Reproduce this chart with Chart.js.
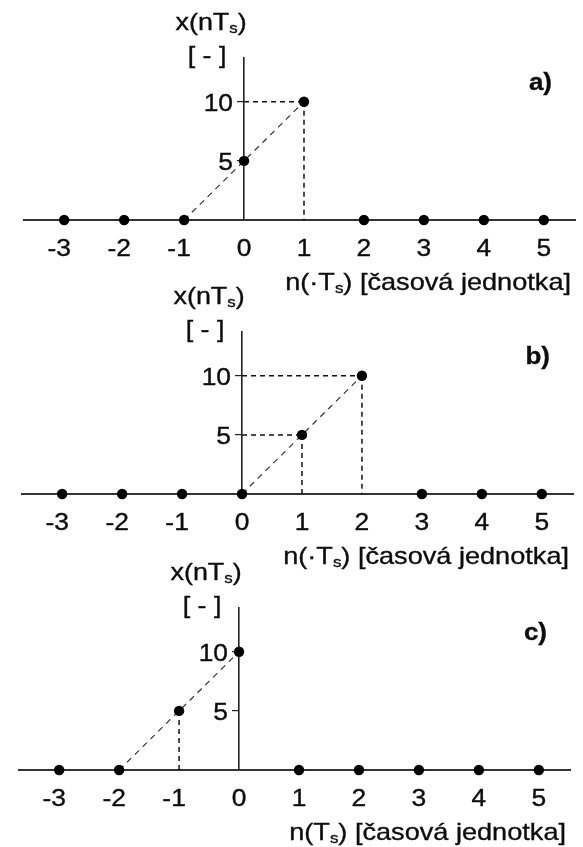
<!DOCTYPE html>
<html>
<head>
<meta charset="utf-8">
<script src="https://cdn.jsdelivr.net/npm/chart.js@4/dist/chart.umd.min.js"></script>
<style>
  html, body { margin: 0; padding: 0; background: #fff; width: 583px; height: 847px; overflow: hidden; }
  .panel { position: absolute; width: 583px; height: 297px; }
  canvas { display: block; }
</style>
</head>
<body>
<div class="panel" style="left:0px;top:0px"><canvas id="panelA" width="583" height="297"></canvas></div>
<div class="panel" style="left:-2.5px;top:274px"><canvas id="panelB" width="583" height="297"></canvas></div>
<div class="panel" style="left:-5px;top:550px"><canvas id="panelC" width="583" height="297"></canvas></div>
<script>
// Discrete-time samples n and the three sequences x(nTs)
const samples = [-3, -2, -1, 0, 1, 2, 3, 4, 5];
const signalA = [0, 0, 0, 5, 10, 0, 0, 0, 0];
const signalB = [0, 0, 0, 0, 5, 10, 0, 0, 0];
const signalC = [0, 0, 5, 10, 0, 0, 0, 0, 0];

// Tick values and texts ("_s" marks a subscript s)
const xTicks = [-3, -2, -1, 0, 1, 2, 3, 4, 5];
const yTicks = [5, 10];
const yTitleLines = ['x(nT_s)', '[ - ]'];
const panelTags = ['a)', 'b)', 'c)'];
const xTitles = ['n(·T_s) [časová jednotka]', 'n(·T_s) [časová jednotka]', 'n(T_s) [časová jednotka]'];

const FONT = '"Liberation Sans", Arial, sans-serif';
const INK = '#0d0d0d';

// Draws a string with optional subscripts, horizontally widened
function drawRich(ctx, str, x, y, align, size, weight, stretch) {
  const parts = [];
  for (let i = 0; i < str.length; i++) {
    if (str[i] === '_') { parts.push({ t: str[i + 1], sub: true }); i++; }
    else if (parts.length && !parts[parts.length - 1].sub) parts[parts.length - 1].t += str[i];
    else parts.push({ t: str[i], sub: false });
  }
  const subSize = Math.round(size * 0.62);
  let total = 0;
  parts.forEach(p => {
    ctx.font = `${weight} ${p.sub ? subSize : size}px ${FONT}`;
    p.w = ctx.measureText(p.t).width;
    total += p.w;
  });
  total *= stretch;
  const startX = align === 'right' ? x - total : align === 'center' ? x - total / 2 : x;
  ctx.save();
  ctx.fillStyle = INK;
  ctx.strokeStyle = INK;
  ctx.lineWidth = 0.35;
  ctx.textBaseline = 'alphabetic';
  ctx.textAlign = 'left';
  ctx.translate(startX, y);
  ctx.scale(stretch, 1);
  let cx = 0;
  parts.forEach(p => {
    ctx.font = `${weight} ${p.sub ? subSize : size}px ${FONT}`;
    const dy = p.sub ? size * 0.12 : 0;
    ctx.fillText(p.t, cx, dy);
    ctx.strokeText(p.t, cx, dy);
    cx += p.w;
  });
  ctx.restore();
}

// Dashed helper lines: drops to the n axis, lines back to the x axis, and the ramp
function guideLines(values) {
  const segs = [];
  values.forEach((v, i) => {
    const n = samples[i];
    if (v === 0) return;
    if (n !== 0) segs.push({ kind: 'v', pts: [{ x: n, y: v }, { x: n, y: 0 }] });
    if (n > 0) segs.push({ kind: 'h', pts: [{ x: 0, y: v }, { x: n, y: v }] });
  });
  const first = values.findIndex(v => v !== 0);
  let last = values.length - 1;
  while (values[last] === 0) last--;
  segs.push({ kind: 'd', pts: [{ x: samples[first - 1], y: values[first - 1] }, { x: samples[last], y: values[last] }] });
  return segs;
}

function labelsPlugin(tag, xTitle) {
  return {
    id: 'axisTexts',
    afterDraw(chart) {
      const ctx = chart.ctx;
      const xs = chart.scales.x, ys = chart.scales.y;
      const area = chart.chartArea;
      const x0 = xs.getPixelForValue(0);
      const base = ys.getPixelForValue(0);
      xTicks.forEach(v => {
        const px = xs.getPixelForValue(v) - (v < 0 ? 5 : 0);
        drawRich(ctx, String(v), px, base + 36, 'center', 24, 'normal', 1.1);
      });
      yTicks.forEach(v => {
        drawRich(ctx, String(v), x0 - 11, ys.getPixelForValue(v) + 9, 'right', 24, 'normal', 1.1);
      });
      drawRich(ctx, yTitleLines[0], x0 - 33, area.top - 28, 'center', 24, 'normal', 1.12);
      drawRich(ctx, yTitleLines[1], x0 - 37, area.top + 5, 'center', 24, 'normal', 1.12);
      drawRich(ctx, tag, area.right - 23, area.top + 32, 'right', 24, 'bold', 1.08);
      drawRich(ctx, xTitle, area.right - 4, base + 70, 'right', 24, 'normal', 1.13);
    }
  };
}

function makePanel(canvasId, values, tag, xTitle) {
  const points = samples.map((n, i) => ({ x: n, y: values[i] }));
  const datasets = [{
    data: points,
    pointRadius: 5.2,
    pointBackgroundColor: '#000',
    pointBorderWidth: 0,
    showLine: false,
    clip: false
  }];
  guideLines(values).forEach(seg => {
    datasets.push({
      data: seg.pts,
      showLine: true,
      pointRadius: 0,
      borderColor: seg.kind === 'd' ? '#333' : '#111',
      borderWidth: seg.kind === 'd' ? 1.2 : 1.5,
      borderDash: seg.kind === 'd' ? [6, 5] : [5, 4],
      clip: false
    });
  });
  return new Chart(document.getElementById(canvasId), {
    type: 'scatter',
    data: { datasets },
    options: {
      responsive: false,
      animation: false,
      layout: { padding: { left: 24, right: 8, top: 58, bottom: 77 } },
      plugins: { legend: { display: false }, tooltip: { enabled: false } },
      scales: {
        x: {
          type: 'linear',
          position: 'bottom',
          min: -3.67,
          max: 5.52,
          grid: { display: false },
          border: { display: true, color: '#333', width: 2 },
          ticks: { display: false },
          afterBuildTicks: s => { s.ticks = xTicks.map(v => ({ value: v })); },
          afterFit: s => { s.height = 0; }
        },
        y: {
          type: 'linear',
          position: { x: 0 },
          min: 0,
          max: 13.7,
          grid: { display: true, drawOnChartArea: false, drawTicks: true, tickLength: 6, color: '#222', lineWidth: 1.2 },
          border: { display: true, color: '#222', width: 1.6 },
          ticks: { display: false },
          afterBuildTicks: s => { s.ticks = yTicks.map(v => ({ value: v })); }
        }
      }
    },
    plugins: [labelsPlugin(tag, xTitle)]
  });
}

makePanel('panelA', signalA, panelTags[0], xTitles[0]);
makePanel('panelB', signalB, panelTags[1], xTitles[1]);
makePanel('panelC', signalC, panelTags[2], xTitles[2]);
</script>
</body>
</html>
